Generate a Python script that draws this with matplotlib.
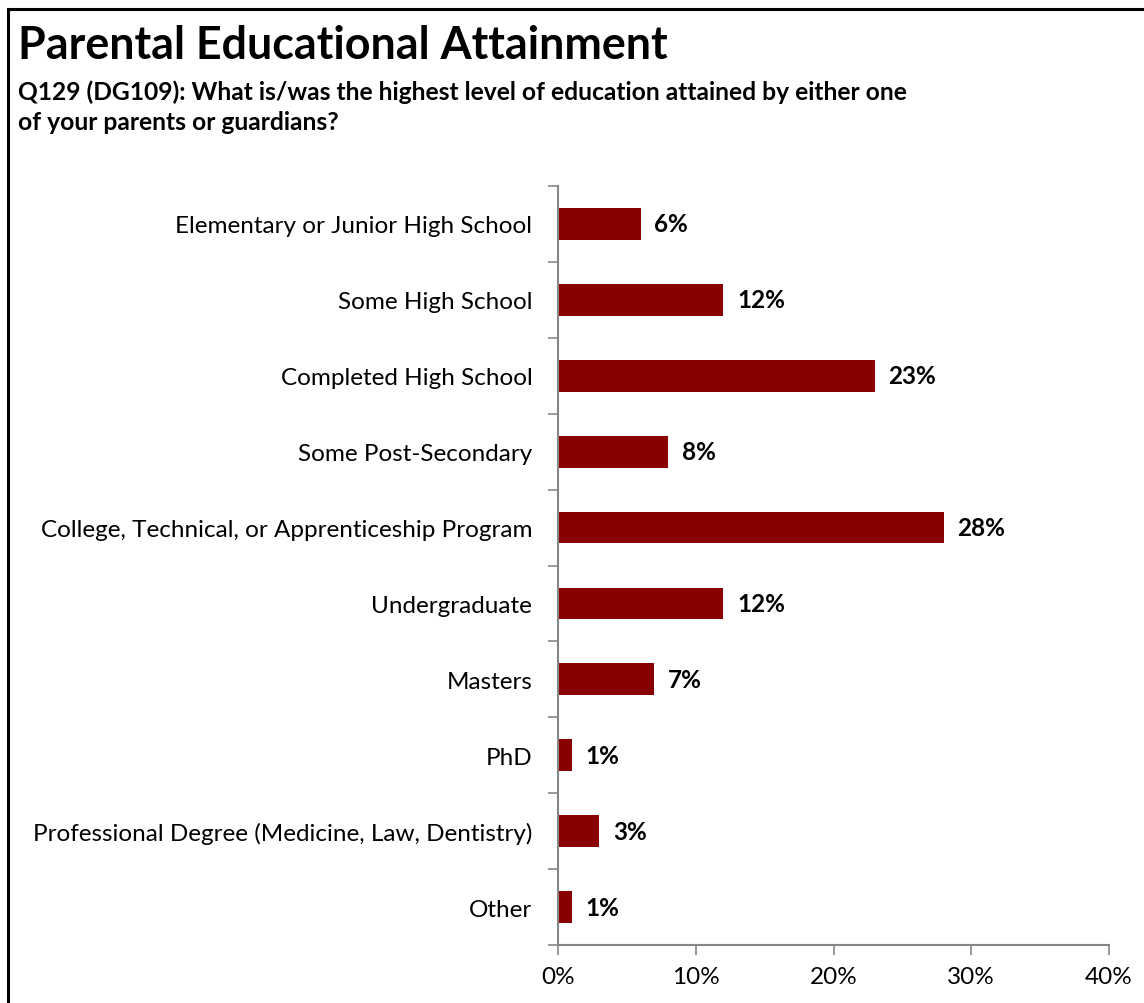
import matplotlib.pyplot as plt
from matplotlib.lines import Line2D
from matplotlib.ticker import FixedLocator, NullFormatter

# survey responses, top to bottom
categories = [
    "Elementary or Junior High School",
    "Some High School",
    "Completed High School",
    "Some Post-Secondary",
    "College, Technical, or Apprenticeship Program",
    "Undergraduate",
    "Masters",
    "PhD",
    "Professional Degree (Medicine, Law, Dentistry)",
    "Other",
]
percents = [6, 12, 23, 8, 28, 12, 7, 1, 3, 1]
x_ticks = [0, 10, 20, 30, 40]

BAR_COLOR = "#880000"
AXIS_COLOR = "#868686"
FONT = ["Lato", "DejaVu Sans"]
FS = 17.5

plt.rcParams["font.family"] = FONT

W, H = 1144, 1004
fig = plt.figure(figsize=(W / 100, H / 100), dpi=100)

ax = fig.add_axes([558 / W, 1 - 946 / H, (1109 - 558) / W, (946 - 187) / H])

n = len(categories)
ypos = list(range(n))
ax.barh(ypos, percents, height=0.42, color=BAR_COLOR, zorder=2)
ax.set_ylim(n - 0.5, -0.5)
ax.set_xlim(0, 40)

for y, v in zip(ypos, percents):
    ax.text(v + 1.0, y, f"{v}%", va="center", ha="left",
            fontsize=FS, fontweight="bold", color="black")

# y axis: labels at category centres, ticks at the boundaries
ax.set_yticks(ypos)
ax.set_yticklabels(categories, fontsize=FS)
ax.tick_params(axis="y", which="major", length=0, pad=18.5)
ax.yaxis.set_minor_locator(FixedLocator([i - 0.5 for i in range(n + 1)]))
ax.yaxis.set_minor_formatter(NullFormatter())
ax.tick_params(axis="y", which="minor", length=7, width=1.2, color=AXIS_COLOR,
               direction="out")

ax.set_xticks(x_ticks)
ax.set_xticklabels([f"{t}%" for t in x_ticks], fontsize=FS)
ax.tick_params(axis="x", length=7, width=1.2, color=AXIS_COLOR, pad=8)

for side in ["top", "right"]:
    ax.spines[side].set_visible(False)
for side in ["left", "bottom"]:
    ax.spines[side].set_color(AXIS_COLOR)
    ax.spines[side].set_linewidth(1.5)

# heading
fig.text(18 / W, 1 - 46 / H, "Parental Educational Attainment",
         fontsize=32.3, fontweight="bold", va="center", ha="left")
fig.text(18 / W, 1 - 92 / H,
         "Q129 (DG109): What is/was the highest level of education attained by either one",
         fontsize=17.7, fontweight="bold", va="center", ha="left")
fig.text(18 / W, 1 - 123 / H, "of your parents or guardians?",
         fontsize=17.7, fontweight="bold", va="center", ha="left")

# frame around the slide
fig.add_artist(Line2D([8 / W, 8 / W], [0, 1 - 10 / H], color="black", lw=2.2,
                      transform=fig.transFigure))
fig.add_artist(Line2D([8 / W, 1], [1 - 10 / H, 1 - 10 / H], color="black", lw=2.2,
                      transform=fig.transFigure))

fig.savefig("out.png", dpi=100)
